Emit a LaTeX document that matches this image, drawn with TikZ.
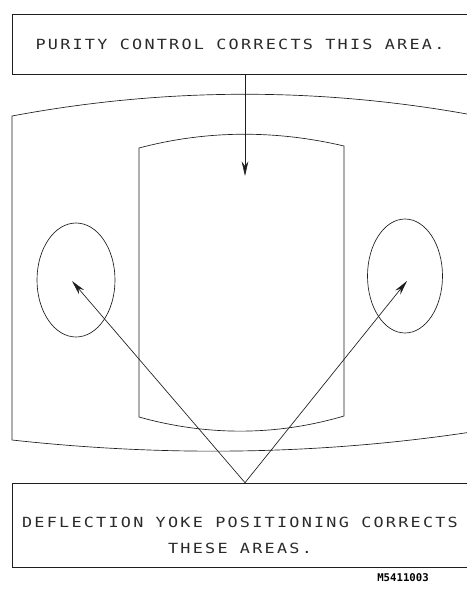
\documentclass[tikz,border=0pt]{standalone}
\usepackage{fontspec}
\setmonofont{DejaVu Sans Mono}
\usetikzlibrary{arrows.meta,positioning,shapes.geometric}
\definecolor{Line}{HTML}{1E1E1E}
\definecolor{Ink}{HTML}{2A2A2A}

\begin{document}
\begin{tikzpicture}[
 x=0.75pt,y=-0.75pt,
 panel/.style={draw=Line,line width=0.5pt,minimum width=349.5pt,inner sep=0pt},
 caps/.style={text=Ink,align=center,font=\fontsize{10.5pt}{19.5pt}\selectfont\ttfamily\addfontfeature{FakeStretch=1.2,LetterSpace=16}},
 area/.style={draw=Line,line width=0.5pt,ellipse,inner sep=0pt,minimum height=85.5pt},
 a/.style={-{Stealth[length=11pt,width=5pt]},draw=Line,line width=0.5pt}
]
\useasboundingbox (0,0) rectangle (467,590);
\node[panel,caps,minimum height=45pt] (purity) at (245,44) {PURITY CONTROL CORRECTS THIS AREA.\hspace*{7.5pt}};
\node[panel,minimum height=63pt] (yoke) at (245,525) {};
\node[caps] (yoketext) at (240,535) {DEFLECTION YOKE POSITIONING CORRECTS\\THESE AREAS.};
\node[font=\fontsize{8pt}{9pt}\selectfont\ttfamily\bfseries] (figno) at (403,578) {M5411003};
\draw[Line,line width=0.5pt] (12,440) -- (12,116) .. controls (167,87) and (323,87) .. (478,116);
\draw[Line,line width=0.5pt] (12,440) .. controls (167,457) and (323,455) .. (478,431);
\draw[Line,line width=0.5pt] (139,417) -- (139,148) .. controls (207,130) and (276,130) .. (344,146) -- (344,416) .. controls (276,436) and (207,436) .. cycle;
\node[area,minimum width=58.5pt] (leftarea) at (76,280) {};
\node[area,minimum width=56.25pt] (rightarea) at (405,276) {};
\coordinate (ctarget) at (245,176);
\coordinate (ltarget) at (72,281);
\coordinate (rtarget) at (407,281);
\draw[a] (purity) -- (ctarget);
\draw[a] (yoke.north) -- (ltarget);
\draw[a] (yoke.north) -- (rtarget);
\end{tikzpicture}
\end{document}
